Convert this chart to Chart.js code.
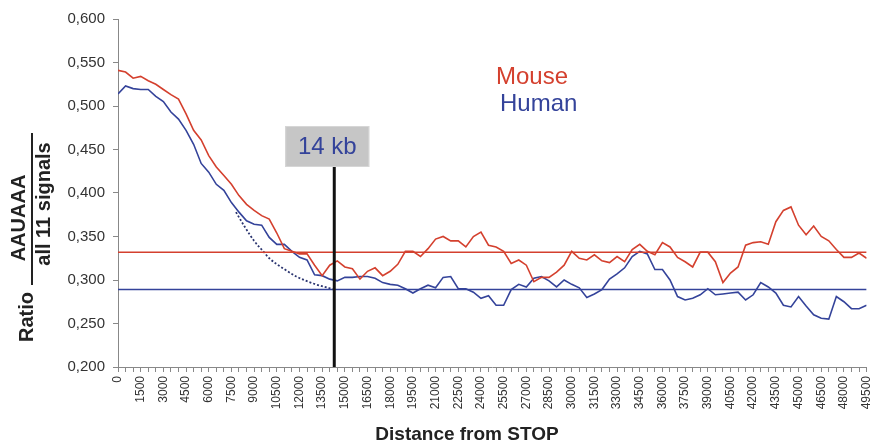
<!DOCTYPE html>
<html>
<head>
<meta charset="utf-8">
<script src="https://cdn.jsdelivr.net/npm/chart.js@4"></script>
<style>
  html, body { margin: 0; padding: 0; background: #fff; }
  #wrap { width: 885px; height: 446px; }
</style>
</head>
<body>
<div id="wrap"><canvas id="chart" width="885" height="446"></canvas></div>
<script>
// distance from STOP (bp), one point every 500
const distances = [
  0, 500, 1000, 1500, 2000, 2500, 3000, 3500, 4000, 4500,
  5000, 5500, 6000, 6500, 7000, 7500, 8000, 8500, 9000, 9500,
  10000, 10500, 11000, 11500, 12000, 12500, 13000, 13500, 14000, 14500,
  15000, 15500, 16000, 16500, 17000, 17500, 18000, 18500, 19000, 19500,
  20000, 20500, 21000, 21500, 22000, 22500, 23000, 23500, 24000, 24500,
  25000, 25500, 26000, 26500, 27000, 27500, 28000, 28500, 29000, 29500,
  30000, 30500, 31000, 31500, 32000, 32500, 33000, 33500, 34000, 34500,
  35000, 35500, 36000, 36500, 37000, 37500, 38000, 38500, 39000, 39500,
  40000, 40500, 41000, 41500, 42000, 42500, 43000, 43500, 44000, 44500,
  45000, 45500, 46000, 46500, 47000, 47500, 48000, 48500, 49000, 49500
];

const mouseRatio = [
  0.541, 0.539, 0.532, 0.534, 0.529, 0.525, 0.519, 0.513, 0.508, 0.491,
  0.472, 0.461, 0.443, 0.430, 0.420, 0.410, 0.397, 0.387, 0.380, 0.374,
  0.370, 0.354, 0.336, 0.333, 0.330, 0.330, 0.317, 0.305, 0.317, 0.322,
  0.315, 0.313, 0.301, 0.310, 0.314, 0.305, 0.310, 0.318, 0.333, 0.333,
  0.327, 0.336, 0.347, 0.350, 0.345, 0.345, 0.338, 0.350, 0.355, 0.340,
  0.338, 0.333, 0.319, 0.323, 0.317, 0.298, 0.303, 0.303, 0.309, 0.317,
  0.333, 0.325, 0.323, 0.329, 0.322, 0.320, 0.327, 0.321, 0.335, 0.341,
  0.333, 0.329, 0.343, 0.338, 0.326, 0.321, 0.315, 0.332, 0.332, 0.321,
  0.297, 0.308, 0.315, 0.340, 0.343, 0.344, 0.341, 0.367, 0.380, 0.384,
  0.363, 0.352, 0.362, 0.350, 0.345, 0.335, 0.326, 0.326, 0.331, 0.325
];

const humanRatio = [
  0.514, 0.523, 0.520, 0.519, 0.519, 0.511, 0.505, 0.493, 0.485, 0.472,
  0.456, 0.434, 0.424, 0.410, 0.403, 0.389, 0.378, 0.368, 0.364, 0.363,
  0.349, 0.341, 0.341, 0.333, 0.326, 0.323, 0.306, 0.305, 0.301, 0.299,
  0.303, 0.303, 0.304, 0.304, 0.302, 0.297, 0.295, 0.294, 0.290, 0.285,
  0.290, 0.294, 0.291, 0.303, 0.304, 0.290, 0.290, 0.286, 0.279, 0.282,
  0.271, 0.271, 0.289, 0.295, 0.292, 0.302, 0.304, 0.299, 0.292, 0.300,
  0.295, 0.291, 0.280, 0.284, 0.289, 0.301, 0.307, 0.314, 0.327, 0.333,
  0.330, 0.312, 0.312, 0.300, 0.281, 0.277, 0.279, 0.283, 0.290, 0.283,
  0.284, 0.285, 0.286, 0.277, 0.283, 0.297, 0.292, 0.285, 0.271, 0.269,
  0.281, 0.270, 0.260, 0.256, 0.255, 0.281, 0.275, 0.267, 0.267, 0.271
];

// background levels
const mouseMean = 0.332;
const humanMean = 0.289;

// dotted decay of the human curve down to its background level
const fitDistances = [7800, 8350, 9000, 9650, 10000, 10950, 11800, 12900, 14000, 14300];
const fitRatio = [0.378, 0.362, 0.345, 0.332, 0.325, 0.313, 0.304, 0.296, 0.2905, 0.289];

const cutoff = 14300; // "14 kb" marker
const cutoffLabel = "14 kb";

const RED = "#d4402e";
const BLUE = "#34439a";
const FONT = "'Liberation Sans', Arial, sans-serif";

const toPoints = (xs, ys) => xs.map((x, i) => ({ x: x, y: ys[i] }));

// texts and the 14 kb marker, drawn on top of the chart
const extras = {
  id: "extras",
  afterDatasetsDraw(chart) {
    const ctx = chart.ctx;
    const area = chart.chartArea;
    const xPix = chart.scales.x.getPixelForValue(cutoff);
    ctx.save();

    // black marker line
    ctx.strokeStyle = "#111";
    ctx.lineWidth = 3;
    ctx.beginPath();
    ctx.moveTo(xPix, 167);
    ctx.lineTo(xPix, area.bottom);
    ctx.stroke();

    // grey label box
    const bx = xPix - 49, by = 126, bw = 84, bh = 41;
    ctx.fillStyle = "#c6c6c6";
    ctx.fillRect(bx, by, bw, bh);
    ctx.strokeStyle = "#d6d6d6";
    ctx.lineWidth = 1;
    ctx.strokeRect(bx + 0.5, by + 0.5, bw - 1, bh - 1);
    ctx.fillStyle = BLUE;
    ctx.font = "24px " + FONT;
    ctx.textAlign = "center";
    ctx.textBaseline = "middle";
    ctx.fillText(cutoffLabel, bx + bw / 2, by + bh / 2 + 1);

    // series names
    ctx.textAlign = "left";
    ctx.textBaseline = "alphabetic";
    ctx.fillStyle = RED;
    ctx.fillText("Mouse", 496, 84);
    ctx.fillStyle = BLUE;
    ctx.fillText("Human", 500, 111);

    // x axis title
    ctx.fillStyle = "#222";
    ctx.font = "bold 19px " + FONT;
    ctx.textAlign = "center";
    ctx.textBaseline = "middle";
    ctx.fillText("Distance from STOP", 467, 435);

    // y axis title: Ratio  AAUAAA / all 11 signals
    ctx.font = "bold 20px " + FONT;
    ctx.save();
    ctx.translate(27, 317);
    ctx.rotate(-Math.PI / 2);
    ctx.fillText("Ratio", 0, 0);
    ctx.restore();

    ctx.save();
    ctx.translate(19, 218);
    ctx.rotate(-Math.PI / 2);
    ctx.fillText("AAUAAA", 0, 0);
    ctx.restore();

    ctx.save();
    ctx.translate(44, 204);
    ctx.rotate(-Math.PI / 2);
    ctx.fillText("all 11 signals", 0, 0);
    ctx.restore();

    ctx.strokeStyle = "#222";
    ctx.lineWidth = 2;
    ctx.beginPath();
    ctx.moveTo(32, 133);
    ctx.lineTo(32, 285);
    ctx.stroke();

    ctx.restore();
  }
};

const ctx = document.getElementById("chart").getContext("2d");
new Chart(ctx, {
  type: "line",
  data: {
    datasets: [
      {
        label: "Mouse mean",
        data: [{ x: 0, y: mouseMean }, { x: 49500, y: mouseMean }],
        borderColor: RED,
        borderWidth: 1.5
      },
      {
        label: "Human mean",
        data: [{ x: 0, y: humanMean }, { x: 49500, y: humanMean }],
        borderColor: BLUE,
        borderWidth: 1.5
      },
      {
        label: "Human fit",
        data: toPoints(fitDistances, fitRatio),
        borderColor: "#2b3570",
        borderWidth: 1.8,
        borderDash: [2, 2],
        cubicInterpolationMode: "monotone"
      },
      {
        label: "Mouse",
        data: toPoints(distances, mouseRatio),
        borderColor: RED,
        borderWidth: 1.6
      },
      {
        label: "Human",
        data: toPoints(distances, humanRatio),
        borderColor: BLUE,
        borderWidth: 1.6
      }
    ]
  },
  options: {
    responsive: false,
    animation: false,
    layout: { padding: { top: 19, right: 13, left: 0, bottom: 0 } },
    elements: { point: { radius: 0 }, line: { tension: 0, fill: false } },
    plugins: {
      legend: { display: false },
      tooltip: { enabled: false }
    },
    scales: {
      x: {
        type: "linear",
        min: 0,
        max: 49500,
        afterFit: (s) => { s.height = 79; },
        border: { color: "#888", width: 1 },
        grid: { drawOnChartArea: false, color: "#888", tickLength: 5 },
        ticks: {
          stepSize: 500,
          autoSkip: false,
          minRotation: 90,
          maxRotation: 90,
          padding: 4,
          color: "#333",
          font: { family: FONT, size: 12 },
          callback: (v) => (v % 1500 === 0 ? String(v) : "")
        }
      },
      y: {
        min: 0.2,
        max: 0.6,
        afterFit: (s) => { s.width = 118; },
        border: { color: "#888", width: 1 },
        grid: { drawOnChartArea: false, color: "#888", tickLength: 5 },
        ticks: {
          stepSize: 0.05,
          padding: 8,
          color: "#333",
          font: { family: FONT, size: 15 },
          callback: (v) => v.toFixed(3).replace(".", ",")
        }
      }
    }
  },
  plugins: [extras]
});
</script>
</body>
</html>
